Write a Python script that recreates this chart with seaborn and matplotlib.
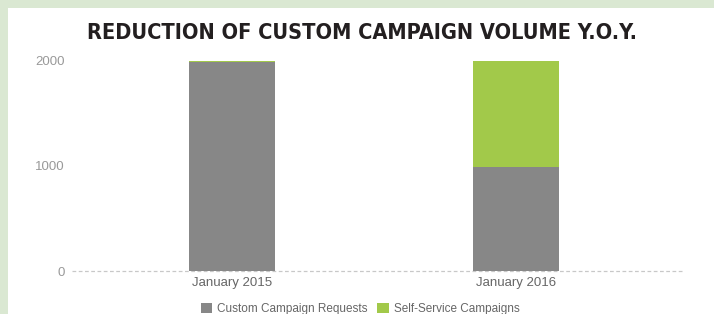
import matplotlib
matplotlib.use("Agg")
import matplotlib.pyplot as plt
import seaborn as sns
import pandas as pd
from matplotlib.patches import Rectangle

categories = ["January 2015", "January 2016"]
custom_requests = [1980, 985]
self_service = [15, 1010]
y_ticks = [0, 1000, 2000]
title = "REDUCTION OF CUSTOM CAMPAIGN VOLUME Y.O.Y."

sns.set_theme(style="white")
plt.rcParams['font.family'] = ['Liberation Sans', 'DejaVu Sans']

W, H = 714, 314
fig = plt.figure(figsize=(W / 100, H / 100), dpi=100)
fig.patch.set_facecolor("white")

border = "#dae8d2"
fig.patches.append(Rectangle((0, 1 - 8 / H), 1, 8 / H, transform=fig.transFigure,
                             facecolor=border, edgecolor="none", zorder=0))
fig.patches.append(Rectangle((0, 0), 8 / W, 1, transform=fig.transFigure,
                             facecolor=border, edgecolor="none", zorder=0))

ax = fig.add_axes([72 / W, 1 - 271 / H, (684 - 72) / W, (271 - 60) / H])
ax.set_facecolor("none")

df = pd.DataFrame({
    "month": categories,
    "custom": custom_requests,
    "self": self_service,
})
df["total"] = df["custom"] + df["self"]

gray = "#878787"
green = "#a2c94a"
sns.barplot(data=df, x="month", y="total", color=green, width=0.303, ax=ax,
            saturation=1, edgecolor="none", linewidth=0, zorder=2)
sns.barplot(data=df, x="month", y="custom", color=gray, width=0.303, ax=ax,
            saturation=1, edgecolor="none", linewidth=0, zorder=3)

ax.set_xlim(-0.563, 1.592)
ax.set_ylim(0, 2000)
ax.set_yticks(y_ticks)
ax.set_yticklabels([str(v) for v in y_ticks])
ax.axhline(0, color="#c8c8c8", linestyle=(0, (3, 2)), linewidth=0.9, zorder=1, clip_on=False)
for s in ax.spines.values():
    s.set_visible(False)
ax.tick_params(axis="both", length=0, colors="#999999", labelsize=9.5)
ax.tick_params(axis="y", pad=5)
ax.tick_params(axis="x", pad=4)
for lab in ax.get_xticklabels():
    lab.set_color("#666666")
ax.set_xlabel("")
ax.set_ylabel("")

fig.text(362 / W, 1 - 33 / H, title, ha="center", va="center",
         fontsize=15.6, fontweight="bold", color="#231f20",
         family=["DejaVu Sans"], fontstretch="condensed")

handles = [Rectangle((0, 0), 1, 1, facecolor=gray, edgecolor="none"),
           Rectangle((0, 0), 1, 1, facecolor=green, edgecolor="none")]
fig.legend(handles, ["Custom Campaign Requests", "Self-Service Campaigns"],
           loc="center", bbox_to_anchor=(360 / W, 1 - 309 / H), ncol=2,
           frameon=False, fontsize=8.5, handlelength=1.0, handleheight=1.0,
           handletextpad=0.4, columnspacing=0.8, labelcolor="#666666",
           borderpad=0, borderaxespad=0)

fig.savefig("out.png", dpi=100, facecolor="white")
